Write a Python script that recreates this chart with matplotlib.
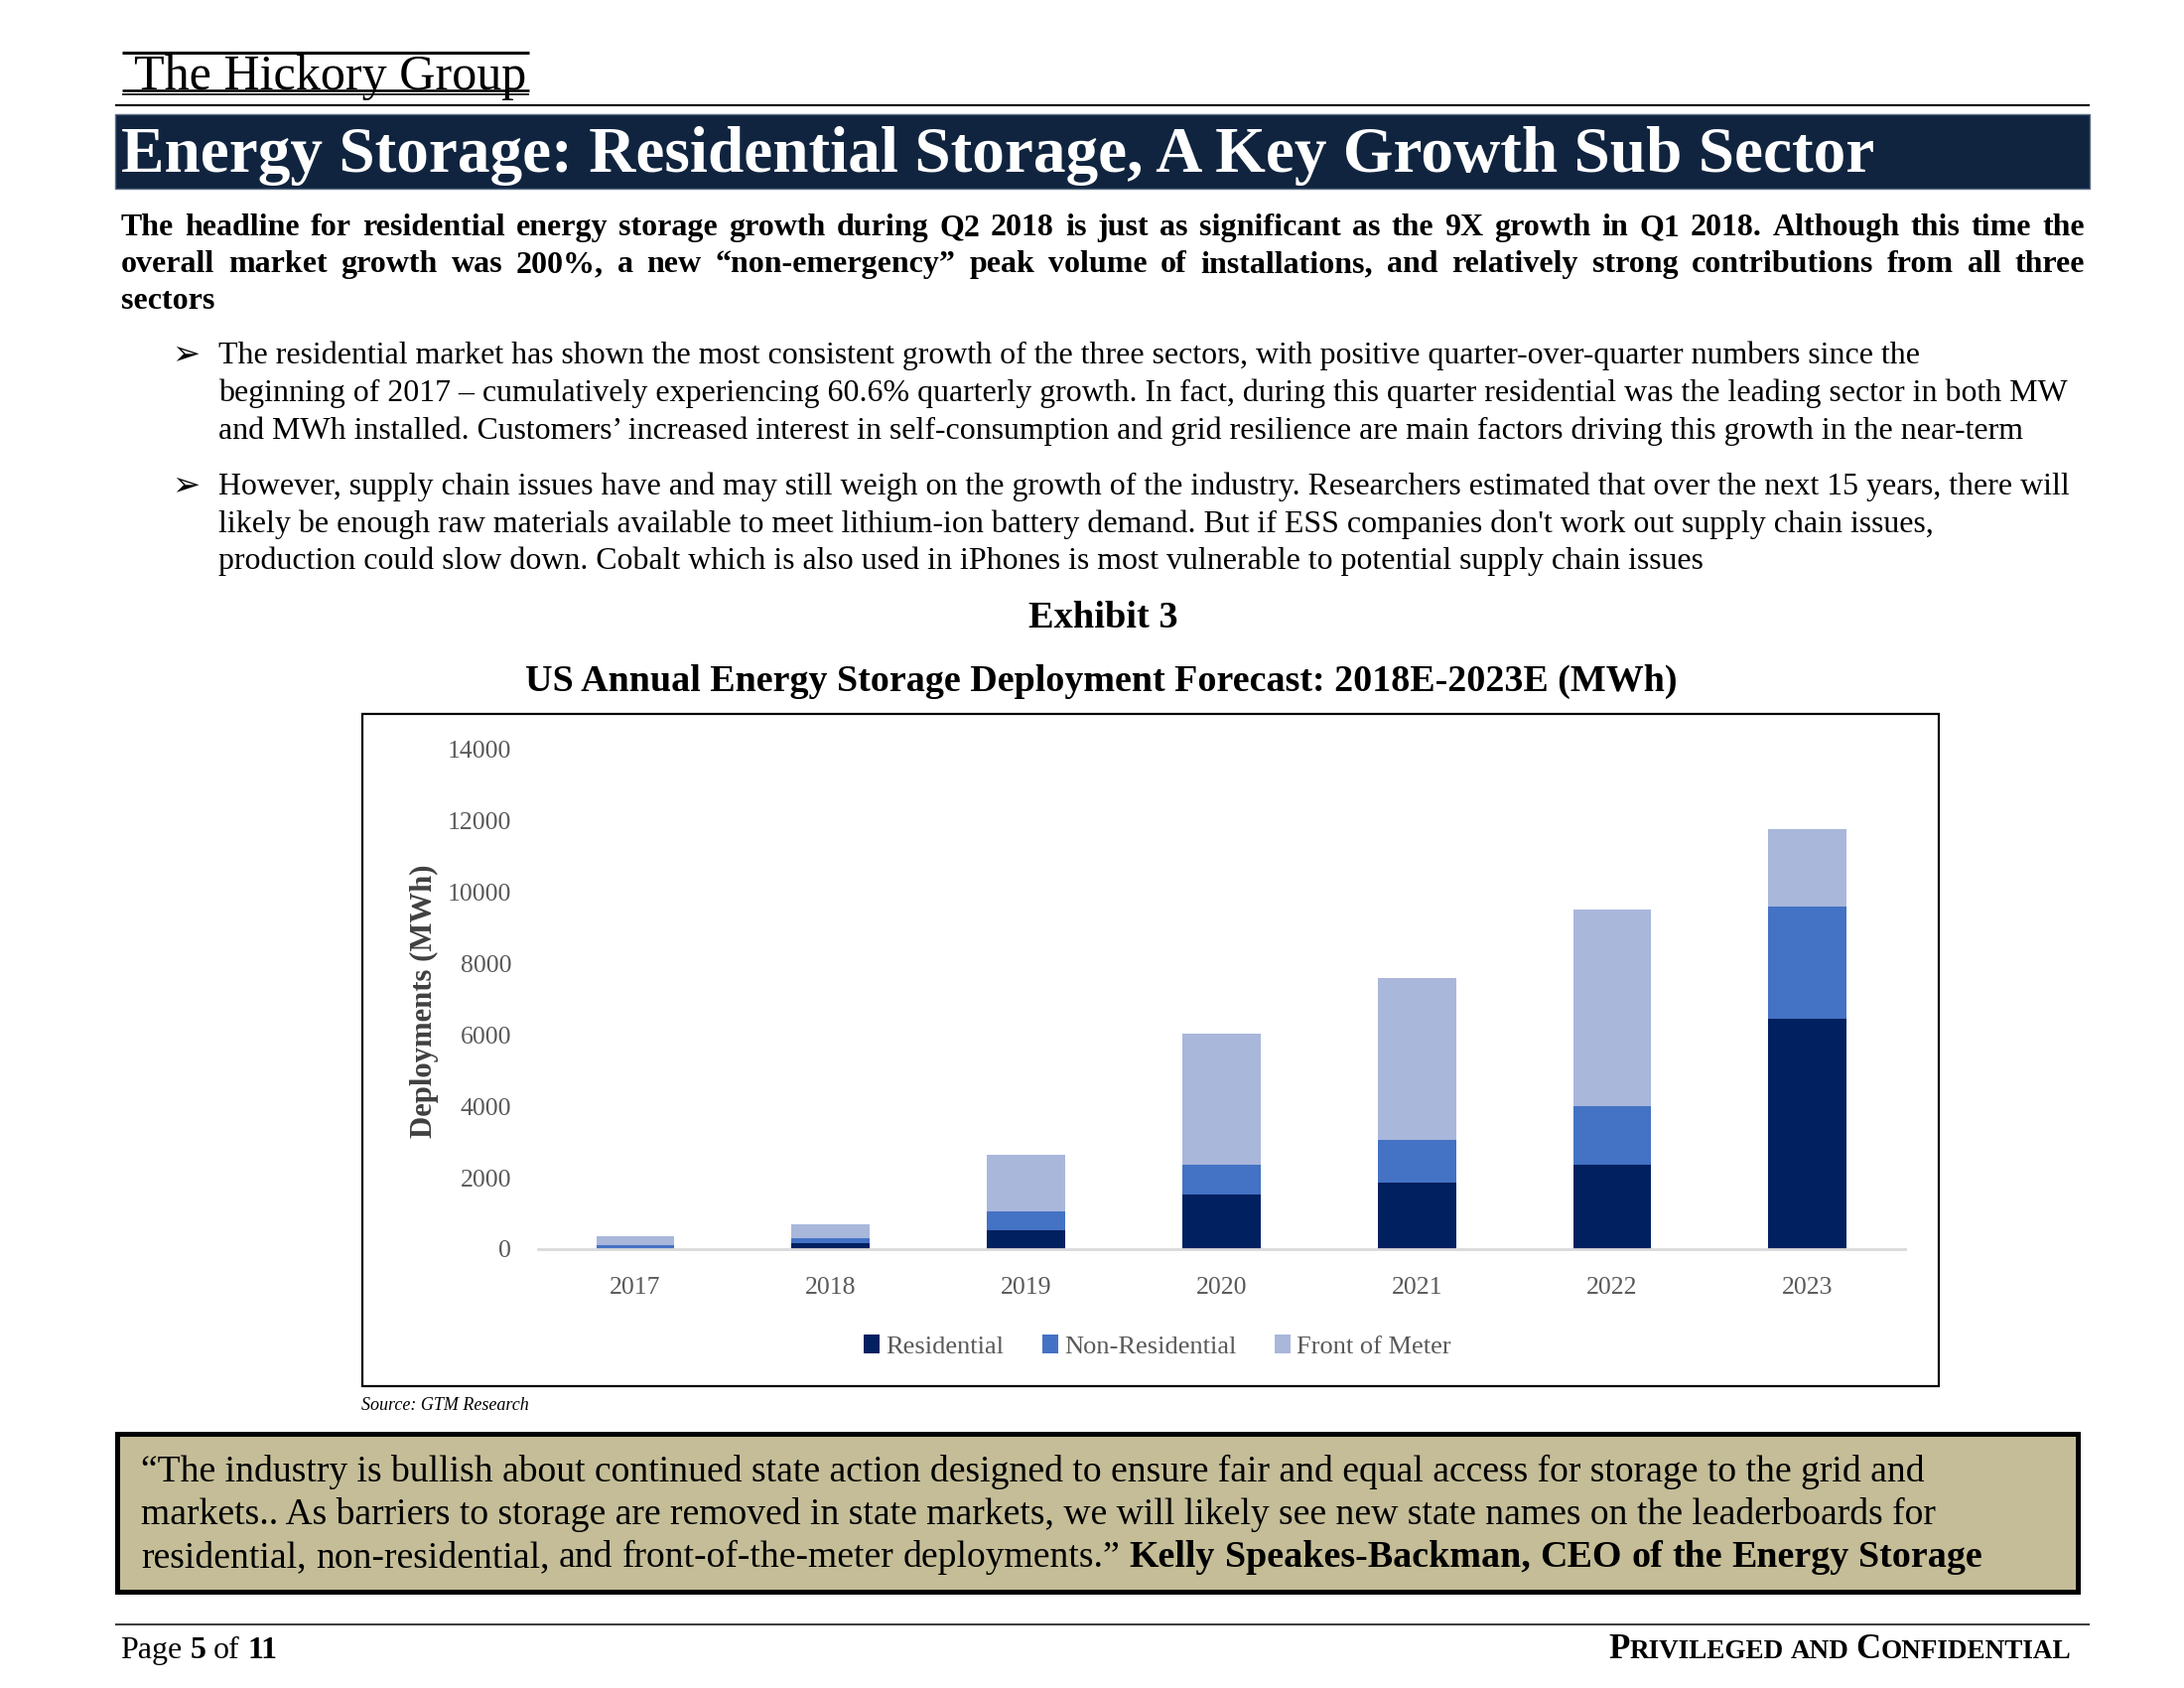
import matplotlib
matplotlib.use('Agg')
import matplotlib.pyplot as plt
from matplotlib.lines import Line2D
from matplotlib.patches import Rectangle

plt.rcParams['font.family'] = ['Liberation Serif', 'DejaVu Sans']

# Données du graphique (MWh)
years = ['2017', '2018', '2019', '2020', '2021', '2022', '2023']
residential = [10, 170, 535, 1520, 1855, 2365, 6470]
non_residential = [90, 150, 525, 845, 1220, 1655, 3125]
front_of_meter = [250, 380, 1580, 3670, 4520, 5500, 2190]
series_names = ['Residential', 'Non-Residential', 'Front of Meter']
series_colors = ['#002060', '#4472C4', '#A9B7DB']
y_ticks = [0, 2000, 4000, 6000, 8000, 10000, 12000, 14000]

W, H = 2200, 1700
fig = plt.figure(figsize=(22, 17), dpi=100)
renderer = fig.canvas.get_renderer()


def fx(x):
    return x / W


def fy(y):
    return 1 - y / H


def measure(s, size, weight='normal', style='normal'):
    t = fig.text(0, 0, s, fontsize=size, fontweight=weight, fontstyle=style)
    w = t.get_window_extent(renderer).width
    t.remove()
    return w


def space_w(size, weight='normal', style='normal'):
    return measure('x x', size, weight, style) - measure('xx', size, weight, style)


def fit(s, width, weight='normal', style='normal'):
    return 20 * width / measure(s, 20, weight, style)


def runs_width(runs):
    x = 0
    for text, size, weight, style in runs:
        sw = space_w(size, weight, style)
        for i, piece in enumerate(text.split(' ')):
            if i > 0:
                x += sw
            if piece:
                x += measure(piece, size, weight, style)
    return x


def draw_runs(runs, x, y, color='black', gap=None):
    # runs: liste de (texte, taille, graisse, style)
    for text, size, weight, style in runs:
        sw = gap if gap is not None else space_w(size, weight, style)
        for i, piece in enumerate(text.split(' ')):
            if i > 0:
                x += sw
            if piece:
                t = fig.text(fx(x), fy(y), piece, fontsize=size, fontweight=weight,
                             fontstyle=style, color=color, va='baseline', ha='left')
                x += t.get_window_extent(renderer).width
    return x


def justify(line, x0, x1, y, size, weight='normal', color='black'):
    words = line.split(' ')
    total = sum(measure(w, size, weight) for w in words)
    gap = (x1 - x0 - total) / (len(words) - 1)
    draw_runs([(line, size, weight, 'normal')], x0, y, color=color, gap=gap)


def hline(x0, x1, y, lw, color='black'):
    fig.add_artist(Line2D([fx(x0), fx(x1)], [fy(y), fy(y)], transform=fig.transFigure,
                          color=color, lw=lw, solid_capstyle='butt'))


def rect(x0, y0, x1, y1, **kw):
    fig.add_artist(Rectangle((fx(x0), fy(y1)), (x1 - x0) / W, (y1 - y0) / H,
                             transform=fig.transFigure, **kw))


# En-tête
hline(123, 533, 53, 2.2)
hline(123, 533, 91, 1.8)
hline(123, 533, 95, 1.2)
s = 'The Hickory Group'
fig.text(fx(135), fy(90), s, fontsize=fit(s, 395), va='baseline', ha='left')
hline(116, 2105, 106, 1.5)

# Bandeau du titre
rect(116, 115, 2105, 190, facecolor='#10243F', edgecolor='#5B6E88', lw=1)
s = 'Energy Storage: Residential Storage, A Key Growth Sub Sector'
fig.text(fx(122), fy(173), s, fontsize=fit(s, 1765, 'bold'), fontweight='bold',
         color='white', va='baseline', ha='left')

# Paragraphe d'introduction (justifié)
intro = ['The headline for residential energy storage growth during Q2 2018 is just as significant as the 9X growth in Q1 2018. Although this time the',
         'overall market growth was 200%, a new \u201cnon-emergency\u201d peak volume of installations, and relatively strong contributions from all three',
         'sectors']
size_intro = min(23, fit(intro[0], 1978 * 0.97, 'bold'))
justify(intro[0], 122, 2100, 237, size_intro, 'bold')
justify(intro[1], 122, 2100, 274, size_intro, 'bold')
draw_runs([(intro[2], size_intro, 'bold', 'normal')], 122, 311)

# Puces
bullets = [
    ['The residential market has shown the most consistent growth of the three sectors, with positive quarter-over-quarter numbers since the',
     'beginning of 2017 \u2013 cumulatively experiencing 60.6% quarterly growth. In fact, during this quarter residential was the leading sector in both MW',
     'and MWh installed. Customers\u2019 increased interest in self-consumption and grid resilience are main factors driving this growth in the near-term'],
    ['However, supply chain issues have and may still weigh on the growth of the industry. Researchers estimated that over the next 15 years, there will',
     "likely be enough raw materials available to meet lithium-ion battery demand. But if ESS companies don't work out supply chain issues,",
     'production could slow down. Cobalt which is also used in iPhones is most vulnerable to potential supply chain issues']]
bullet_y = [[366, 404, 442], [498, 536, 573]]
size_b = fit(bullets[0][1], 1865)
for lines, ys in zip(bullets, bullet_y):
    fig.text(fx(173), fy(ys[0]), '\u27a2', fontsize=size_b * 1.05, family='DejaVu Sans',
             va='baseline', ha='left')
    for line, y in zip(lines, ys):
        fig.text(fx(220), fy(y), line, fontsize=size_b, va='baseline', ha='left')

# Titres de l'exhibit
s = 'Exhibit 3'
fig.text(fx(1111), fy(632), s, fontsize=fit(s, 150, 'bold'), fontweight='bold',
         va='baseline', ha='center')
s = 'US Annual Energy Storage Deployment Forecast: 2018E-2023E (MWh)'
fig.text(fx(1109), fy(696), s, fontsize=fit(s, 1158, 'bold'), fontweight='bold',
         va='baseline', ha='center')

# Cadre du graphique
rect(365, 719, 1953, 1396, facecolor='none', edgecolor='black', lw=1.6)

# Graphique en barres empilées
ax = fig.add_axes([541.6 / W, 1 - 1258 / H, 1377.6 / W, 503 / H])
x = list(range(len(years)))
bottom2 = [a + b for a, b in zip(residential, non_residential)]
ax.bar(x, residential, width=0.4, color=series_colors[0], label=series_names[0])
ax.bar(x, non_residential, width=0.4, bottom=residential, color=series_colors[1],
       label=series_names[1])
ax.bar(x, front_of_meter, width=0.4, bottom=bottom2, color=series_colors[2],
       label=series_names[2])
ax.set_xlim(-0.5, 6.5)
ax.set_ylim(0, 14000)
ax.set_yticks(y_ticks)
ax.set_yticklabels([str(v) for v in y_ticks])
ax.set_xticks(x)
ax.set_xticklabels(years)
for side in ['top', 'right', 'left']:
    ax.spines[side].set_visible(False)
ax.spines['bottom'].set_color('#D9D9D9')
ax.spines['bottom'].set_linewidth(2)
ax.tick_params(axis='both', length=0, labelsize=18.5, labelcolor='#595959')
ax.tick_params(axis='y', pad=19)
ax.tick_params(axis='x', pad=20)
ax.patch.set_alpha(0)
fig.text(fx(427), fy(1008), 'Deployments (MWh)', rotation=90, fontsize=fit('Deployments (MWh)', 276, 'bold'),
         fontweight='bold', color='#404040', va='center', ha='center')
ax.legend(loc='center', bbox_to_anchor=(1166 / W, 1 - 1356 / H), bbox_transform=fig.transFigure,
          ncol=3, frameon=False, fontsize=19, handlelength=0.6, handleheight=0.7,
          handletextpad=0.25, columnspacing=1.45, labelcolor='#595959')

fig.text(fx(364), fy(1420), 'Source: GTM Research', fontsize=13, fontstyle='italic',
         va='baseline', ha='left')

# Encadré de la citation
rect(118, 1444, 2093, 1603, facecolor='#C4BD97', edgecolor='black', lw=3.6)
quote = ['\u201cThe industry is bullish about continued state action designed to ensure fair and equal access for storage to the grid and',
         'markets.. As barriers to storage are removed in state markets, we will likely see new state names on the leaderboards for',
         'residential, non-residential, and front-of-the-meter deployments.\u201d']
size_q = fit(quote[0], 1796)
fig.text(fx(142), fy(1492), quote[0], fontsize=size_q, va='baseline', ha='left')
fig.text(fx(142), fy(1535), quote[1], fontsize=size_q, va='baseline', ha='left')
draw_runs([(quote[2] + ' ', size_q, 'normal', 'normal'),
           ('Kelly Speakes-Backman, CEO of the Energy Storage', size_q * 1.01, 'bold', 'normal')], 142, 1578)

# Pied de page
hline(116, 2105, 1636, 1.5, '#404040')
draw_runs([('Page ', 23, 'normal', 'normal'), ('5', 23, 'bold', 'normal'),
           (' of ', 23, 'normal', 'normal'), ('11', 23, 'bold', 'normal')], 121, 1670)
big, small = 25, 19.5
sc = [('P', big, 'bold', 'normal'), ('RIVILEGED AND ', small, 'bold', 'normal'),
      ('C', big, 'bold', 'normal'), ('ONFIDENTIAL', small, 'bold', 'normal')]
draw_runs(sc, 2086 - runs_width(sc), 1670)

fig.savefig('out.png', dpi=100)
